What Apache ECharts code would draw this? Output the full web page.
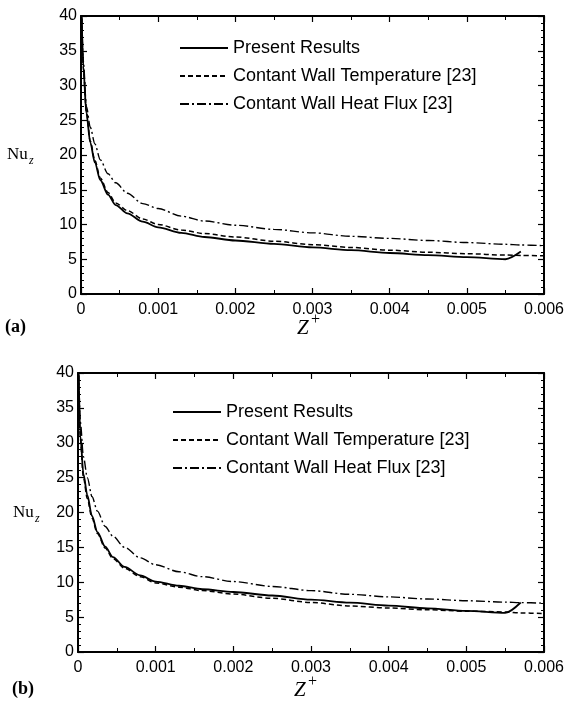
<!DOCTYPE html>
<html>
<head>
<meta charset="utf-8">
<script src="https://cdn.jsdelivr.net/npm/echarts@6/dist/echarts.min.js"></script>
<style>
    html, body { margin: 0; padding: 0; background: #fff; }
    #chart { width: 570px; height: 705px; }
</style>
</head>
<body>
<div id="chart"></div>
<script>
// Z+ 采样点
var zA = [0.000005, 0.00003, 0.00007, 0.00012, 0.00018, 0.00025, 0.00035, 0.00045, 0.0006, 0.0008,
    0.001, 0.0013, 0.0016, 0.002, 0.0025, 0.003, 0.0035, 0.004, 0.0045, 0.005, 0.0055, 0.0057, 0.006];
var zB = zA;

// (a) 图数据
var presentA = [42, 32.7, 26.0, 21.8, 18.9, 16.4, 14.3, 12.8, 11.6, 10.4,
    9.6, 8.8, 8.2, 7.7, 7.2, 6.7, 6.3, 5.9, 5.6, 5.3, 5.0, 6.1, null];
var wallTempA = [42, 32.5, 26.2, 22.0, 19.2, 16.7, 14.6, 13.1, 12.0, 10.8,
    10.0, 9.2, 8.7, 8.2, 7.6, 7.1, 6.7, 6.3, 6.0, 5.8, 5.6, 5.55, 5.5];
var heatFluxA = [42, 33.5, 27.0, 24.0, 21.6, 19.3, 17.3, 16.0, 14.5, 13.0,
    12.3, 11.2, 10.5, 9.9, 9.3, 8.8, 8.3, 8.0, 7.7, 7.4, 7.15, 7.05, 6.95];

// (b) 图数据
var presentB = [42, 31, 25.5, 22.5, 19.5, 17.2, 15.1, 13.6, 12.2, 11.0,
    10.1, 9.5, 9.0, 8.6, 8.1, 7.5, 7.07, 6.65, 6.25, 5.9, 5.6, 7.1, null];
var wallTempB = [42, 30.5, 25, 22, 19.2, 17.0, 14.9, 13.4, 12.0, 10.8,
    9.9, 9.3, 8.8, 8.3, 7.7, 7.1, 6.6, 6.3, 6.05, 5.85, 5.75, 5.6, 5.5];
var heatFluxB = [42, 33, 28, 25, 22.3, 20.2, 18.0, 16.6, 15.0, 13.5,
    12.5, 11.5, 10.8, 10.1, 9.4, 8.8, 8.27, 7.9, 7.6, 7.35, 7.15, 7.08, 7.0];

var seriesNames = ['Present Results', 'Contant Wall Temperature [23]', 'Contant Wall Heat Flux [23]'];
var xTicks = { min: 0, max: 0.006, interval: 0.001 };
var yTicks = { min: 0, max: 40, interval: 5 };

function pairs(z, v) {
    return z.map(function(x, i) { return [x, v[i]]; });
}

var lineStyles = [
    { color: '#000', width: 1.8, type: 'solid' },
    { color: '#000', width: 1.5, type: [5, 3] },
    { color: '#000', width: 1.4, type: [9, 3, 2, 3] }
];

var sansFont = '"Liberation Sans", Arial, sans-serif';
var serifFont = '"Liberation Serif", "Times New Roman", serif';

function xAx(gi, pos) {
    return {
        type: 'value', gridIndex: gi, position: pos,
        min: xTicks.min, max: xTicks.max, interval: xTicks.interval,
        axisLine: { onZero: false, lineStyle: { color: '#000', width: 2 } },
        axisTick: { inside: true, length: 6, lineStyle: { color: '#000', width: 1.2 } },
        minorTick: { show: true, splitNumber: 2, length: 4, lineStyle: { color: '#000', width: 1 } },
        splitLine: { show: false },
        axisLabel: {
            show: pos === 'bottom', color: '#000', fontSize: 16, fontFamily: sansFont, margin: 8,
            formatter: function(v) { return v === 0 ? '0' : v.toFixed(3); }
        }
    };
}

function yAx(gi, pos) {
    return {
        type: 'value', gridIndex: gi, position: pos,
        min: yTicks.min, max: yTicks.max, interval: yTicks.interval,
        axisLine: { onZero: false, lineStyle: { color: '#000', width: 2 } },
        axisTick: { inside: true, length: 6, lineStyle: { color: '#000', width: 1.2 } },
        minorTick: { show: true, splitNumber: 5, length: 3, lineStyle: { color: '#000', width: 1 } },
        splitLine: { show: false },
        axisLabel: { show: pos === 'left', color: '#000', fontSize: 16, fontFamily: sansFont, margin: 4 }
    };
}

function makeSeries(gi, z, data) {
    return data.map(function(vals, i) {
        return {
            name: seriesNames[i], type: 'line',
            xAxisIndex: gi * 2, yAxisIndex: gi * 2,
            data: pairs(z, vals),
            symbol: 'none', smooth: 0.3, smoothMonotone: 'x',
            clip: true, connectNulls: false,
            itemStyle: { color: '#000' },
            lineStyle: lineStyles[i]
        };
    });
}

function legendAt(left, top) {
    return {
        orient: 'vertical', left: left, top: top,
        itemWidth: 48, itemHeight: 14, itemGap: 10,
        selectedMode: false,
        data: seriesNames,
        // 隐藏图例里的圆点，只留线
        itemStyle: { opacity: 0, color: 'rgba(0,0,0,0)', borderWidth: 0 },
        textStyle: { color: '#000', fontSize: 18, fontFamily: sansFont }
    };
}

function txt(x, y, s, size, opts) {
    opts = opts || {};
    return {
        type: 'text', left: x, top: y,
        style: {
            text: s, fill: '#000',
            font: (opts.style || '') + ' ' + (opts.weight || 'normal') + ' ' + size + 'px ' + (opts.family || serifFont)
        }
    };
}

var option = {
    animation: false,
    backgroundColor: '#fff',
    grid: [
        { left: 81, top: 16, right: 26, height: 278 },
        { left: 78, top: 373, right: 26, height: 279 }
    ],
    xAxis: [xAx(0, 'bottom'), xAx(0, 'top'), xAx(1, 'bottom'), xAx(1, 'top')],
    yAxis: [yAx(0, 'left'), yAx(0, 'right'), yAx(1, 'left'), yAx(1, 'right')],
    legend: [legendAt(174, 34), legendAt(167, 398)],
    series: makeSeries(0, zA, [presentA, wallTempA, heatFluxA])
        .concat(makeSeries(1, zB, [presentB, wallTempB, heatFluxB])),
    graphic: [
        txt(7, 146, 'Nu', 17),
        txt(29, 155, 'z', 12, { style: 'italic' }),
        txt(13, 504, 'Nu', 17),
        txt(35, 513, 'z', 12, { style: 'italic' }),
        txt(297, 318, 'Z', 21, { style: 'italic' }),
        txt(311, 312, '+', 16),
        txt(294, 680, 'Z', 21, { style: 'italic' }),
        txt(308, 674, '+', 16),
        txt(5, 318, '(a)', 18, { weight: 'bold' }),
        txt(12, 680, '(b)', 18, { weight: 'bold' })
    ]
};

var myChart = echarts.init(document.getElementById('chart'));
myChart.setOption(option);
</script>
</body>
</html>
